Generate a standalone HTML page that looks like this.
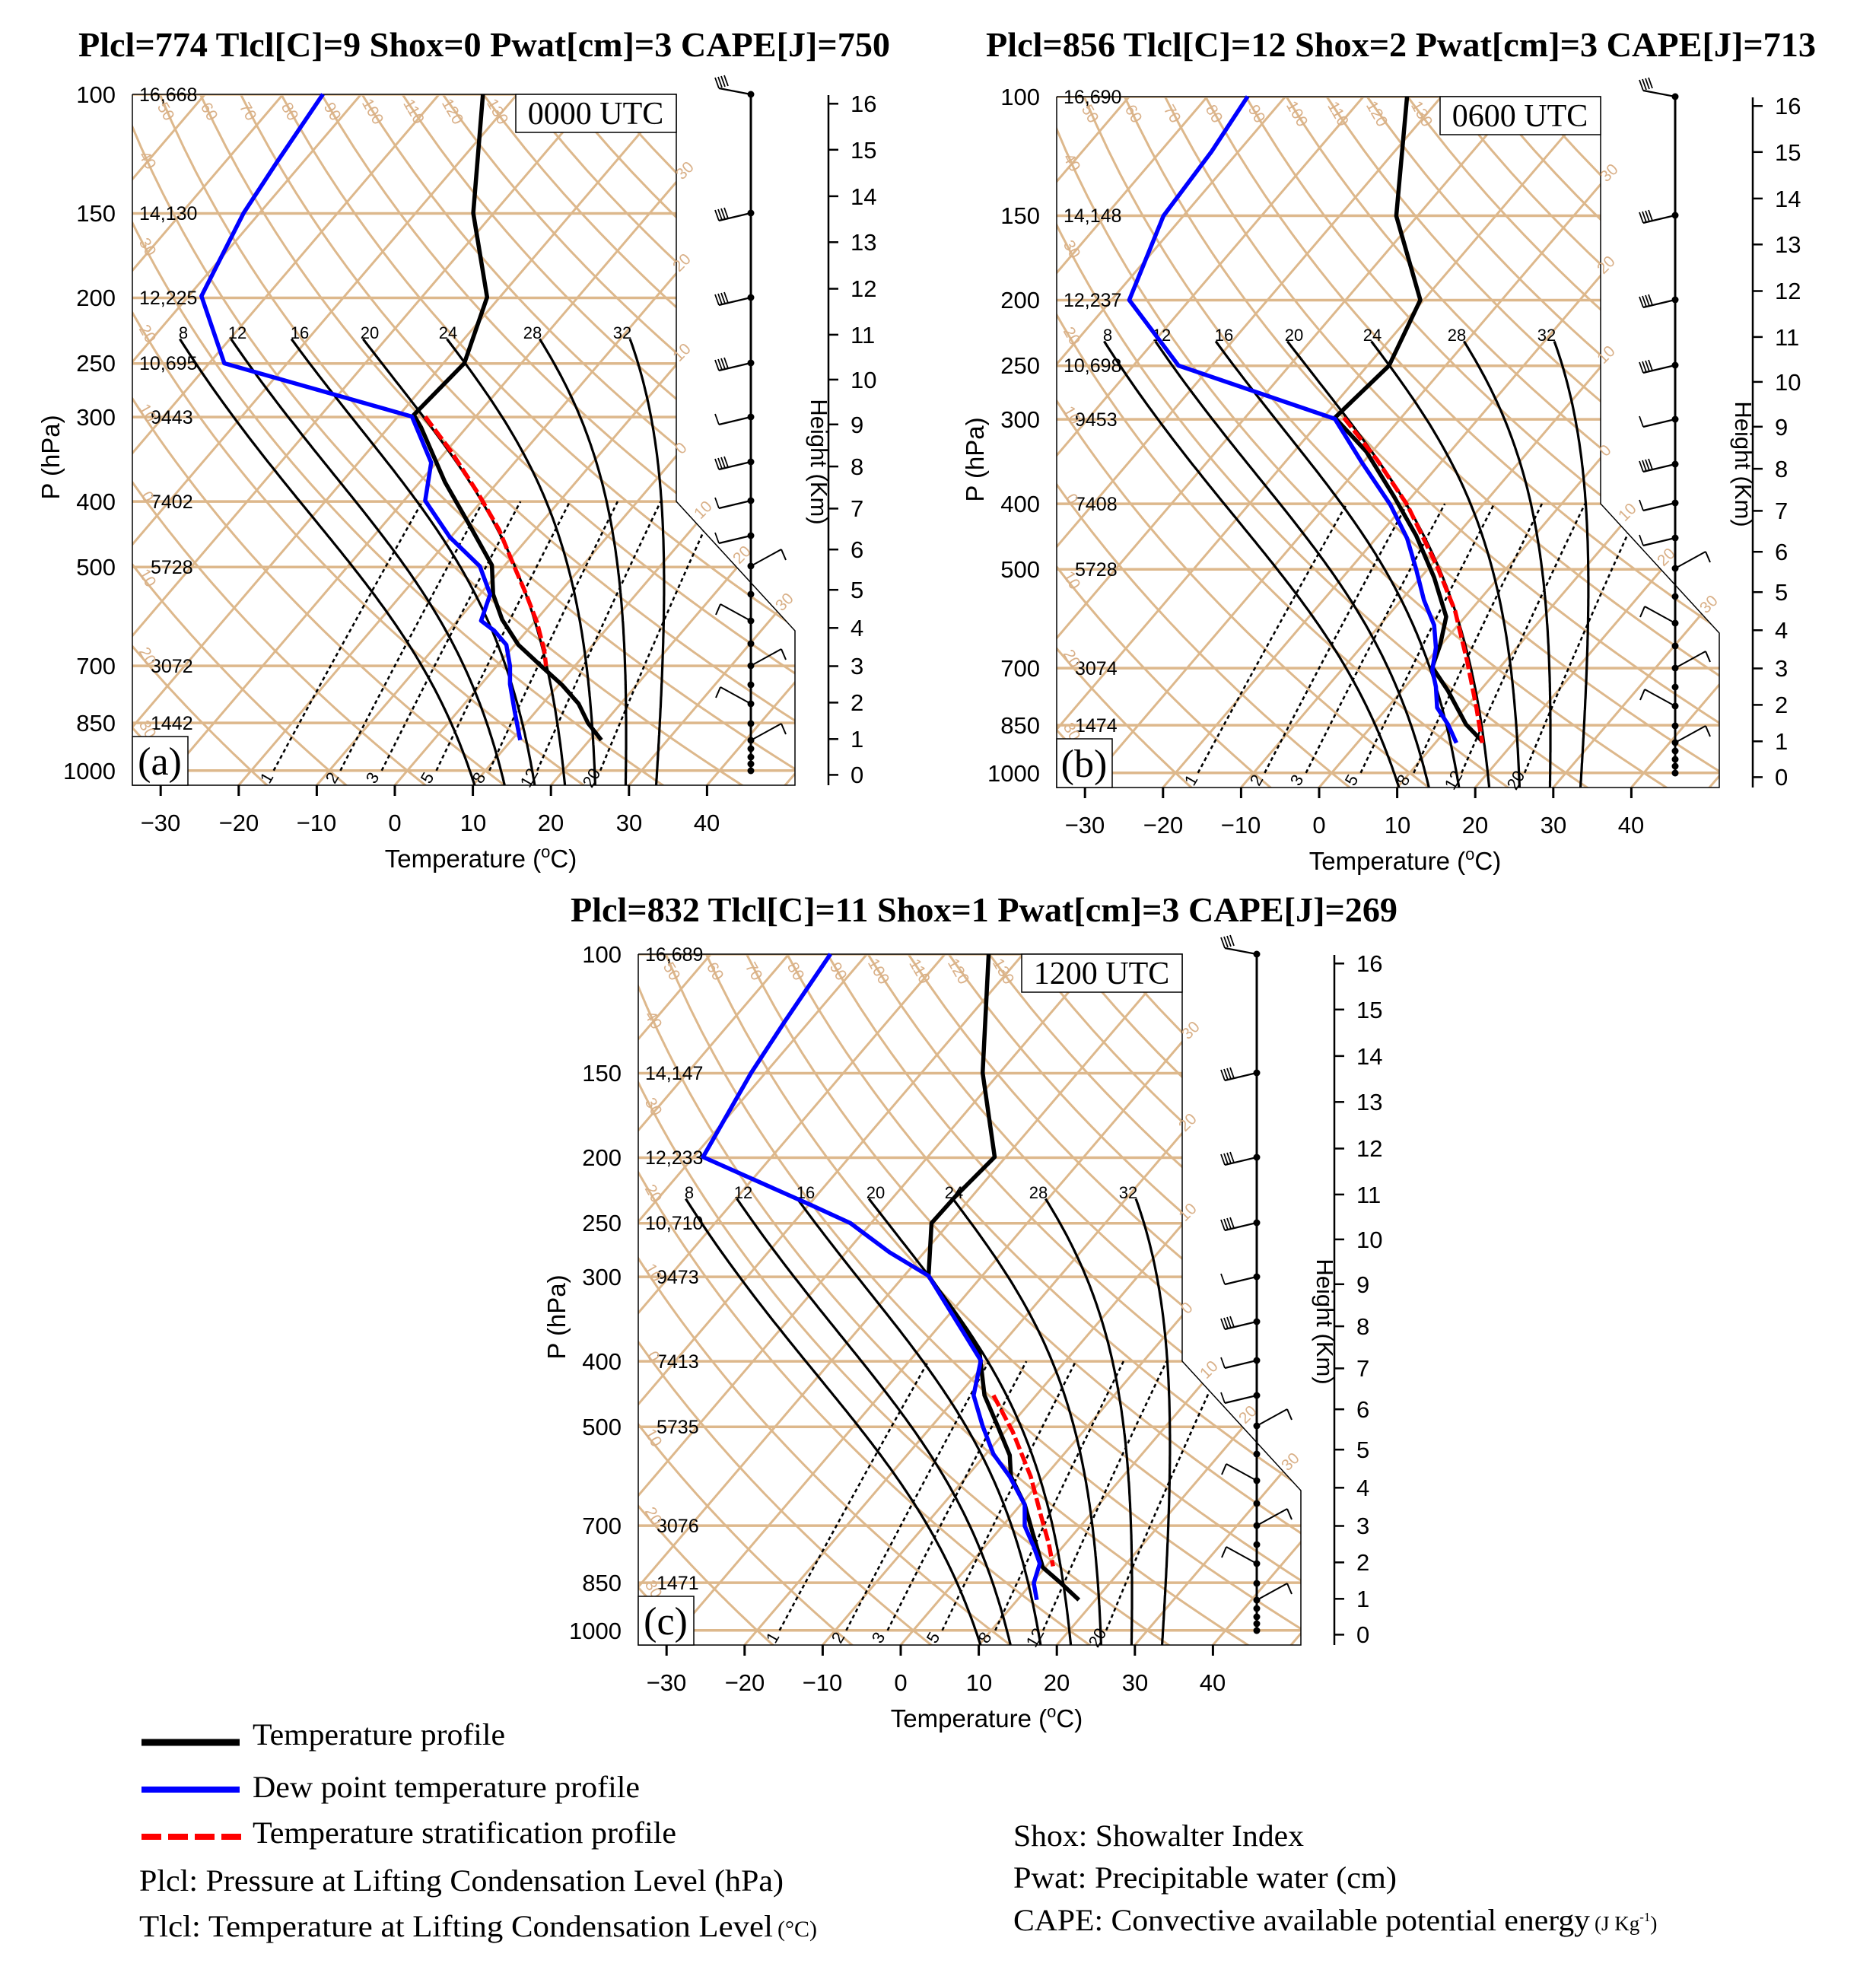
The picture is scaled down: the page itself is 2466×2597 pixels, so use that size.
<!DOCTYPE html>
<html><head><meta charset="utf-8">
<style>html,body{margin:0;padding:0;background:#fff}svg{display:block}</style>
</head><body>
<svg id="s" xmlns="http://www.w3.org/2000/svg" xmlns:xlink="http://www.w3.org/1999/xlink" width="2466" height="2597" viewBox="0 0 2466 2597">
<defs>
<clipPath id="clp"><polygon points="174,124 889,124 889,659 1045,829 1045,1032 174,1032"/></clipPath>
</defs>
<rect width="2466" height="2597" fill="#fff"/>
<g id="bg"></g>
<use href="#bg" xlink:href="#bg" transform="translate(1215,3)"/>
<use href="#bg" xlink:href="#bg" transform="translate(665,1130)"/>

<g id="tA" font-family="Liberation Sans, sans-serif">
 <g font-size="31" text-anchor="end">
  <text x="152" y="135">100</text><text x="152" y="291">150</text><text x="152" y="402">200</text><text x="152" y="488">250</text><text x="152" y="559">300</text><text x="152" y="670">400</text><text x="152" y="756">500</text><text x="152" y="886">700</text><text x="152" y="961">850</text><text x="152" y="1024">1000</text>
 </g>
 <g font-size="25">
  <text x="183" y="133">16,668</text><text x="183" y="289">14,130</text><text x="183" y="400">12,225</text><text x="183" y="486">10,695</text><text x="198" y="557">9443</text><text x="198" y="668">7402</text><text x="198" y="754">5728</text><text x="198" y="884">3072</text><text x="198" y="959">1442</text>
 </g>
</g>
<g id="tB" font-family="Liberation Sans, sans-serif" transform="translate(1215,3)">
 <g font-size="31" text-anchor="end">
  <text x="152" y="135">100</text><text x="152" y="291">150</text><text x="152" y="402">200</text><text x="152" y="488">250</text><text x="152" y="559">300</text><text x="152" y="670">400</text><text x="152" y="756">500</text><text x="152" y="886">700</text><text x="152" y="961">850</text><text x="152" y="1024">1000</text>
 </g>
 <g font-size="25">
  <text x="183" y="133">16,690</text><text x="183" y="289">14,148</text><text x="183" y="400">12,237</text><text x="183" y="486">10,698</text><text x="198" y="557">9453</text><text x="198" y="668">7408</text><text x="198" y="754">5728</text><text x="198" y="884">3074</text><text x="198" y="959">1474</text>
 </g>
</g>
<g id="tC" font-family="Liberation Sans, sans-serif" transform="translate(665,1130)">
 <g font-size="31" text-anchor="end">
  <text x="152" y="135">100</text><text x="152" y="291">150</text><text x="152" y="402">200</text><text x="152" y="488">250</text><text x="152" y="559">300</text><text x="152" y="670">400</text><text x="152" y="756">500</text><text x="152" y="886">700</text><text x="152" y="961">850</text><text x="152" y="1024">1000</text>
 </g>
 <g font-size="25">
  <text x="183" y="133">16,689</text><text x="183" y="289">14,147</text><text x="183" y="400">12,233</text><text x="183" y="486">10,710</text><text x="198" y="557">9473</text><text x="198" y="668">7413</text><text x="198" y="754">5735</text><text x="198" y="884">3076</text><text x="198" y="959">1471</text>
 </g>
</g>

<g id="pa">
 <g font-family="Liberation Sans, sans-serif" font-size="31" text-anchor="middle">
  <text x="211" y="1092">−30</text><text x="314" y="1092">−20</text><text x="416" y="1092">−10</text><text x="519" y="1092">0</text><text x="622" y="1092">10</text><text x="724" y="1092">20</text><text x="827" y="1092">30</text><text x="929" y="1092">40</text>
  <text x="632" y="1140" font-size="33">Temperature (<tspan font-size="22" dy="-13">o</tspan><tspan dy="13">C)</tspan></text>
  <text transform="translate(78,601) rotate(-90)" font-size="33">P (hPa)</text>
  <text transform="translate(1066,607) rotate(90)" font-size="31">Height (Km)</text>
 </g>
 <g font-family="Liberation Sans, sans-serif" font-size="31">
  <text x="1118" y="1029">0</text><text x="1118" y="982">1</text><text x="1118" y="934">2</text><text x="1118" y="886">3</text><text x="1118" y="836">4</text><text x="1118" y="786">5</text><text x="1118" y="733">6</text><text x="1118" y="679">7</text><text x="1118" y="624">8</text><text x="1118" y="569">9</text><text x="1118" y="510">10</text><text x="1118" y="451">11</text><text x="1118" y="390">12</text><text x="1118" y="329">13</text><text x="1118" y="269">14</text><text x="1118" y="208">15</text><text x="1118" y="147">16</text>
 </g>
 <g font-family="Liberation Sans, sans-serif" font-size="22" text-anchor="middle">
  <text x="241" y="445">8</text><text x="312" y="445">12</text><text x="394" y="445">16</text><text x="486" y="445">20</text><text x="589" y="445">24</text><text x="700" y="445">28</text><text x="818" y="445">32</text>
  <text transform="translate(357,1026) rotate(-60)">1</text><text transform="translate(443,1026) rotate(-60)">2</text><text transform="translate(496,1026) rotate(-60)">3</text><text transform="translate(568,1026) rotate(-60)">5</text><text transform="translate(636,1026) rotate(-60)">8</text><text transform="translate(702,1026) rotate(-60)">12</text><text transform="translate(784,1026) rotate(-60)">20</text>
 </g>
 <g font-family="Liberation Sans, sans-serif" font-size="21" fill="#d9b088" text-anchor="middle">
  <text transform="translate(212,150) rotate(60)">50</text><text transform="translate(269,150) rotate(60)">60</text><text transform="translate(320,150) rotate(60)">70</text><text transform="translate(375,150) rotate(60)">80</text><text transform="translate(431,150) rotate(60)">90</text><text transform="translate(484,150) rotate(60)">100</text><text transform="translate(538,150) rotate(60)">110</text><text transform="translate(589,150) rotate(60)">120</text><text transform="translate(648,150) rotate(60)">130</text>
  <text transform="translate(188,214) rotate(60)">40</text><text transform="translate(188,328) rotate(60)">30</text><text transform="translate(188,442) rotate(60)">20</text><text transform="translate(188,546) rotate(60)">10</text><text transform="translate(188,656) rotate(60)">0</text><text transform="translate(188,763) rotate(60)">10</text><text transform="translate(188,866) rotate(60)">20</text><text transform="translate(188,962) rotate(60)">30</text>
  <text transform="translate(905,229) rotate(-45)">30</text><text transform="translate(901,350) rotate(-45)">20</text><text transform="translate(901,468) rotate(-45)">10</text><text transform="translate(900,594) rotate(-45)">0</text><text transform="translate(929,675) rotate(-45)">10</text><text transform="translate(980,734) rotate(-45)">20</text><text transform="translate(1036,796) rotate(-45)">30</text>
 </g>
 <rect x="678" y="124" width="211" height="50" fill="#fff" stroke="#000" stroke-width="1.5"/>
 <rect x="174" y="968" width="73" height="64" fill="#fff" stroke="#000" stroke-width="1.5"/>
</g>
<g transform="translate(1215,3)">
 <g font-family="Liberation Sans, sans-serif" font-size="31" text-anchor="middle">
  <text x="211" y="1092">−30</text><text x="314" y="1092">−20</text><text x="416" y="1092">−10</text><text x="519" y="1092">0</text><text x="622" y="1092">10</text><text x="724" y="1092">20</text><text x="827" y="1092">30</text><text x="929" y="1092">40</text>
  <text x="632" y="1140" font-size="33">Temperature (<tspan font-size="22" dy="-13">o</tspan><tspan dy="13">C)</tspan></text>
  <text transform="translate(78,601) rotate(-90)" font-size="33">P (hPa)</text>
  <text transform="translate(1066,607) rotate(90)" font-size="31">Height (Km)</text>
 </g>
 <g font-family="Liberation Sans, sans-serif" font-size="31">
  <text x="1118" y="1029">0</text><text x="1118" y="982">1</text><text x="1118" y="934">2</text><text x="1118" y="886">3</text><text x="1118" y="836">4</text><text x="1118" y="786">5</text><text x="1118" y="733">6</text><text x="1118" y="679">7</text><text x="1118" y="624">8</text><text x="1118" y="569">9</text><text x="1118" y="510">10</text><text x="1118" y="451">11</text><text x="1118" y="390">12</text><text x="1118" y="329">13</text><text x="1118" y="269">14</text><text x="1118" y="208">15</text><text x="1118" y="147">16</text>
 </g>
 <g font-family="Liberation Sans, sans-serif" font-size="22" text-anchor="middle">
  <text x="241" y="445">8</text><text x="312" y="445">12</text><text x="394" y="445">16</text><text x="486" y="445">20</text><text x="589" y="445">24</text><text x="700" y="445">28</text><text x="818" y="445">32</text>
  <text transform="translate(357,1026) rotate(-60)">1</text><text transform="translate(443,1026) rotate(-60)">2</text><text transform="translate(496,1026) rotate(-60)">3</text><text transform="translate(568,1026) rotate(-60)">5</text><text transform="translate(636,1026) rotate(-60)">8</text><text transform="translate(702,1026) rotate(-60)">12</text><text transform="translate(784,1026) rotate(-60)">20</text>
 </g>
 <g font-family="Liberation Sans, sans-serif" font-size="21" fill="#d9b088" text-anchor="middle">
  <text transform="translate(212,150) rotate(60)">50</text><text transform="translate(269,150) rotate(60)">60</text><text transform="translate(320,150) rotate(60)">70</text><text transform="translate(375,150) rotate(60)">80</text><text transform="translate(431,150) rotate(60)">90</text><text transform="translate(484,150) rotate(60)">100</text><text transform="translate(538,150) rotate(60)">110</text><text transform="translate(589,150) rotate(60)">120</text><text transform="translate(648,150) rotate(60)">130</text>
  <text transform="translate(188,214) rotate(60)">40</text><text transform="translate(188,328) rotate(60)">30</text><text transform="translate(188,442) rotate(60)">20</text><text transform="translate(188,546) rotate(60)">10</text><text transform="translate(188,656) rotate(60)">0</text><text transform="translate(188,763) rotate(60)">10</text><text transform="translate(188,866) rotate(60)">20</text><text transform="translate(188,962) rotate(60)">30</text>
  <text transform="translate(905,229) rotate(-45)">30</text><text transform="translate(901,350) rotate(-45)">20</text><text transform="translate(901,468) rotate(-45)">10</text><text transform="translate(900,594) rotate(-45)">0</text><text transform="translate(929,675) rotate(-45)">10</text><text transform="translate(980,734) rotate(-45)">20</text><text transform="translate(1036,796) rotate(-45)">30</text>
 </g>
 <rect x="678" y="124" width="211" height="50" fill="#fff" stroke="#000" stroke-width="1.5"/>
 <rect x="174" y="968" width="73" height="64" fill="#fff" stroke="#000" stroke-width="1.5"/>
</g>
<g transform="translate(665,1130)">
 <g font-family="Liberation Sans, sans-serif" font-size="31" text-anchor="middle">
  <text x="211" y="1092">−30</text><text x="314" y="1092">−20</text><text x="416" y="1092">−10</text><text x="519" y="1092">0</text><text x="622" y="1092">10</text><text x="724" y="1092">20</text><text x="827" y="1092">30</text><text x="929" y="1092">40</text>
  <text x="632" y="1140" font-size="33">Temperature (<tspan font-size="22" dy="-13">o</tspan><tspan dy="13">C)</tspan></text>
  <text transform="translate(78,601) rotate(-90)" font-size="33">P (hPa)</text>
  <text transform="translate(1066,607) rotate(90)" font-size="31">Height (Km)</text>
 </g>
 <g font-family="Liberation Sans, sans-serif" font-size="31">
  <text x="1118" y="1029">0</text><text x="1118" y="982">1</text><text x="1118" y="934">2</text><text x="1118" y="886">3</text><text x="1118" y="836">4</text><text x="1118" y="786">5</text><text x="1118" y="733">6</text><text x="1118" y="679">7</text><text x="1118" y="624">8</text><text x="1118" y="569">9</text><text x="1118" y="510">10</text><text x="1118" y="451">11</text><text x="1118" y="390">12</text><text x="1118" y="329">13</text><text x="1118" y="269">14</text><text x="1118" y="208">15</text><text x="1118" y="147">16</text>
 </g>
 <g font-family="Liberation Sans, sans-serif" font-size="22" text-anchor="middle">
  <text x="241" y="445">8</text><text x="312" y="445">12</text><text x="394" y="445">16</text><text x="486" y="445">20</text><text x="589" y="445">24</text><text x="700" y="445">28</text><text x="818" y="445">32</text>
  <text transform="translate(357,1026) rotate(-60)">1</text><text transform="translate(443,1026) rotate(-60)">2</text><text transform="translate(496,1026) rotate(-60)">3</text><text transform="translate(568,1026) rotate(-60)">5</text><text transform="translate(636,1026) rotate(-60)">8</text><text transform="translate(702,1026) rotate(-60)">12</text><text transform="translate(784,1026) rotate(-60)">20</text>
 </g>
 <g font-family="Liberation Sans, sans-serif" font-size="21" fill="#d9b088" text-anchor="middle">
  <text transform="translate(212,150) rotate(60)">50</text><text transform="translate(269,150) rotate(60)">60</text><text transform="translate(320,150) rotate(60)">70</text><text transform="translate(375,150) rotate(60)">80</text><text transform="translate(431,150) rotate(60)">90</text><text transform="translate(484,150) rotate(60)">100</text><text transform="translate(538,150) rotate(60)">110</text><text transform="translate(589,150) rotate(60)">120</text><text transform="translate(648,150) rotate(60)">130</text>
  <text transform="translate(188,214) rotate(60)">40</text><text transform="translate(188,328) rotate(60)">30</text><text transform="translate(188,442) rotate(60)">20</text><text transform="translate(188,546) rotate(60)">10</text><text transform="translate(188,656) rotate(60)">0</text><text transform="translate(188,763) rotate(60)">10</text><text transform="translate(188,866) rotate(60)">20</text><text transform="translate(188,962) rotate(60)">30</text>
  <text transform="translate(905,229) rotate(-45)">30</text><text transform="translate(901,350) rotate(-45)">20</text><text transform="translate(901,468) rotate(-45)">10</text><text transform="translate(900,594) rotate(-45)">0</text><text transform="translate(929,675) rotate(-45)">10</text><text transform="translate(980,734) rotate(-45)">20</text><text transform="translate(1036,796) rotate(-45)">30</text>
 </g>
 <rect x="678" y="124" width="211" height="50" fill="#fff" stroke="#000" stroke-width="1.5"/>
 <rect x="174" y="968" width="73" height="64" fill="#fff" stroke="#000" stroke-width="1.5"/>
</g>

<g id="prof"></g>

<g font-family="Liberation Serif, serif" text-anchor="middle">
 <text x="783" y="163" font-size="42">0000 UTC</text>
 <text x="210" y="1018" font-size="52">(a)</text>
 <text x="1998" y="166" font-size="42">0600 UTC</text>
 <text x="1425" y="1021" font-size="52">(b)</text>
 <text x="1448" y="1293" font-size="42">1200 UTC</text>
 <text x="875" y="2148" font-size="52">(c)</text>
</g>

<g font-family="Liberation Serif, serif" font-weight="bold" font-size="46">
 <text x="103" y="74" textLength="1067" lengthAdjust="spacingAndGlyphs">Plcl=774 Tlcl[C]=9 Shox=0 Pwat[cm]=3 CAPE[J]=750</text>
 <text x="1296" y="74" textLength="1091" lengthAdjust="spacingAndGlyphs">Plcl=856 Tlcl[C]=12 Shox=2 Pwat[cm]=3 CAPE[J]=713</text>
 <text x="750" y="1211" textLength="1087" lengthAdjust="spacingAndGlyphs">Plcl=832 Tlcl[C]=11 Shox=1 Pwat[cm]=3 CAPE[J]=269</text>
</g>

<line x1="186" y1="2290" x2="315" y2="2290" stroke="#000" stroke-width="9"/>
<line x1="186" y1="2352" x2="315" y2="2352" stroke="#0000ff" stroke-width="8"/>
<line x1="186" y1="2414" x2="318" y2="2414" stroke="#ff0000" stroke-width="8" stroke-dasharray="26,9"/>
<g font-family="Liberation Serif, serif" font-size="40">
 <text x="332" y="2293" textLength="332" lengthAdjust="spacingAndGlyphs">Temperature profile</text>
 <text x="332" y="2362" textLength="509" lengthAdjust="spacingAndGlyphs">Dew point temperature profile</text>
 <text x="332" y="2422" textLength="557" lengthAdjust="spacingAndGlyphs">Temperature stratification profile</text>
 <text x="183" y="2485" textLength="847" lengthAdjust="spacingAndGlyphs">Plcl: Pressure at Lifting Condensation Level (hPa)</text>
 <text x="183" y="2545" textLength="833" lengthAdjust="spacingAndGlyphs">Tlcl: Temperature at Lifting Condensation Level</text>
 <text x="1022" y="2545" font-size="30">(°C)</text>
 <text x="1332" y="2426" textLength="382" lengthAdjust="spacingAndGlyphs">Shox: Showalter Index</text>
 <text x="1332" y="2481" textLength="504" lengthAdjust="spacingAndGlyphs">Pwat: Precipitable water (cm)</text>
 <text x="1332" y="2537" textLength="758" lengthAdjust="spacingAndGlyphs">CAPE: Convective available potential energy</text>
 <text x="2096" y="2537" font-size="27">(J Kg<tspan font-size="17" dy="-12">-1</tspan><tspan dy="12">)</tspan></text>
</g>
</svg>
<script>
(function(){
var S=0.855;
function Y(p){return 124+386*Math.log(p/100);}
function X(T,p){return 519+10.26*T+S*(1032-Y(p));}
var bg=document.getElementById('bg');
var h='';
var TAN='#ddb88c';
function pl(pts,st){return '<polyline fill="none" points="'+pts.map(function(q){return q[0].toFixed(1)+','+q[1].toFixed(1);}).join(' ')+'" '+st+'/>';}
var g='<g clip-path="url(#clp)">';
[100,150,200,250,300,400,500,700,850,1000].forEach(function(p){var y=Y(p);g+='<line x1="174" x2="1060" y1="'+y+'" y2="'+y+'" stroke="'+TAN+'" stroke-width="3.5"/>';});
for(var T=-170;T<=50;T+=10){g+=pl([[X(T,1060),Y(1060)],[X(T,95),Y(95)]],'stroke="'+TAN+'" stroke-width="3"');}
for(var th=-40;th<=200;th+=10){var pts=[];for(var p=1060;p>=95;p-=10){var Tk=(th+273.15)*Math.pow(p/1000,0.2857);pts.push([X(Tk-273.15,p),Y(p)]);}g+=pl(pts,'stroke="'+TAN+'" stroke-width="3"');}
[1,2,3,5,8,12,20].forEach(function(w){var pts=[];for(var p=1000;p>=400;p-=20){var e=w*p/(622+w);var l=Math.log(e/6.112);var T=243.5*l/(17.67-l);pts.push([X(T,p),Y(p)]);}g+=pl(pts,'stroke="#000" stroke-width="2.6" stroke-dasharray="5,4"');});
function es(T){return 6.112*Math.exp(17.67*T/(T+243.5));}
function d(T,p){var e=es(T-273.15);var rs=0.622*e/(p-e);return (287*T+2.5e6*rs)/p/(1005+2.5e6*2.5e6*rs*0.622/(287*T*T));}
[8,12,16,20,24,28,32].forEach(function(tw){var pts=[];var T=tw+273.15,p=1000,dp=5,k;
 var Td=T,pd=1000;var down=[];while(pd<1060){k=d(Td+d(Td,pd)*dp/2,pd+dp/2);Td+=k*dp;pd+=dp;down.push([X(Td-273.15,pd),Y(pd)]);}
 down.reverse();pts=down.concat([[X(T-273.15,1000),Y(1000)]]);
 while(p>232){k=d(T-d(T,p)*dp/2,p-dp/2);T-=k*dp;p-=dp;pts.push([X(T-273.15,p),Y(p)]);}
 g+=pl(pts,'stroke="#000" stroke-width="3.2"');});
g+='</g>';
h+=g;
h+='<polyline fill="none" stroke="#000" stroke-width="1.5" points="174,124 889,124 889,659 1045,829 1045,1032 174,1032 174,124"/>';
for(var T=-30;T<=40;T+=10){var x=519+10.26*T;h+='<line x1="'+x+'" x2="'+x+'" y1="1032" y2="1046" stroke="#000" stroke-width="3"/>';}
h+='<line x1="1089" x2="1089" y1="125" y2="1032" stroke="#000" stroke-width="2.5"/>';
[1018.4,971.3,923.4,875.5,825.3,775.2,722.2,668.4,613.1,557.8,498.9,439.9,379.5,318.3,257.9,196.8,136.3].forEach(function(y){h+='<line x1="1089" x2="1102" y1="'+y+'" y2="'+y+'" stroke="#000" stroke-width="2.5"/>';});
h+='<line x1="987" x2="987" y1="124" y2="1013" stroke="#000" stroke-width="3"/>';
var dots=[124,280,391,477,548,607,658,704,744,781,816,846,875,900,925,951,973,984,995,1004,1013];
dots.forEach(function(y,i){h+='<circle cx="987" cy="'+y+'" r="4.5" fill="#000"/>';
 if(i<=7){var ex=945,ey=y+(i==0?-8:10);h+='<line x1="987" y1="'+y+'" x2="'+ex+'" y2="'+ey+'" stroke="#000" stroke-width="2.2"/>';
  var nf=(i==4||i==6||i==7)?1:4;for(var f=0;f<nf;f++){var bx=ex+f*4,by=ey-f*1;h+='<line x1="'+bx+'" y1="'+by+'" x2="'+(bx-5)+'" y2="'+(by-14)+'" stroke="#000" stroke-width="1.8"/>';}}
 else if(i>=8&&i<=16&&i%2==0){var sgn=(i%4==0)?1:-1;h+='<line x1="987" y1="'+y+'" x2="'+(987+sgn*40)+'" y2="'+(y-22)+'" stroke="#000" stroke-width="2"/><line x1="'+(987+sgn*40)+'" y1="'+(y-22)+'" x2="'+(987+sgn*46)+'" y2="'+(y-8)+'" stroke="#000" stroke-width="2"/>';}
});
bg.innerHTML=h;
var P=document.getElementById('prof');var s='';
function prof(ox,oy,str,st){var a=str.trim().split(/\s+/).map(function(t){var v=t.split(',');return [ox+v[0]/1.265,oy+v[1]/1.357];});s+=pl(a,st);}
var BK='stroke="#000" stroke-width="5.5" stroke-linejoin="round"',BL='stroke="#0000ff" stroke-width="5.5" stroke-linejoin="round"',RD='stroke="#ff0000" stroke-width="5.5" stroke-dasharray="16,5"';
prof(0,0,"803,168 787,380 810,530 772,648 688,740 700,762 740,860 780,935 818,1008 820,1060 835,1105 862,1150 900,1188 935,1222 962,1255 978,1290 1000,1320",BK);
prof(0,0,"537,168 460,290 405,380 335,528 373,648 685,743 717,825 707,893 748,958 798,1010 815,1060 800,1107 822,1125 842,1150 848,1188 848,1220 856,1270 865,1320",BL);
prof(0,0,"707,743 750,805 795,880 830,945 855,1010 875,1060 893,1110 905,1160 908,1188",RD);
prof(1233,0,"780,172 762,385 802,535 750,652 660,745 712,805 758,885 795,955 825,1030 845,1100 835,1150 822,1190 848,1232 878,1292 905,1322",BK);
prof(1233,0,"515,172 455,270 375,385 318,535 400,652 660,747 705,825 752,900 780,960 795,1015 808,1070 825,1115 828,1155 822,1195 828,1225 830,1262 848,1292 862,1325",BL);
prof(1233,0,"675,745 730,820 780,900 830,1010 860,1090 880,1180 895,1260 905,1325",RD);
prof(600,1130,"885,168 875,380 895,530 830,600 790,648 785,742 830,812 870,880 878,955 900,1010 920,1062 922,1100 945,1150 958,1200 975,1262 1005,1290 1035,1320",BK);
prof(600,1130,"622,168 545,290 490,380 410,530 588,615 655,648 720,700 785,742 830,820 872,893 860,955 875,1010 893,1060 920,1100 945,1150 945,1188 960,1225 970,1255 960,1290 965,1320",BL);
prof(600,1130,"893,955 925,1020 955,1100 972,1170 985,1220 992,1260",RD);
P.innerHTML=s;
})();
</script>
</body></html>
